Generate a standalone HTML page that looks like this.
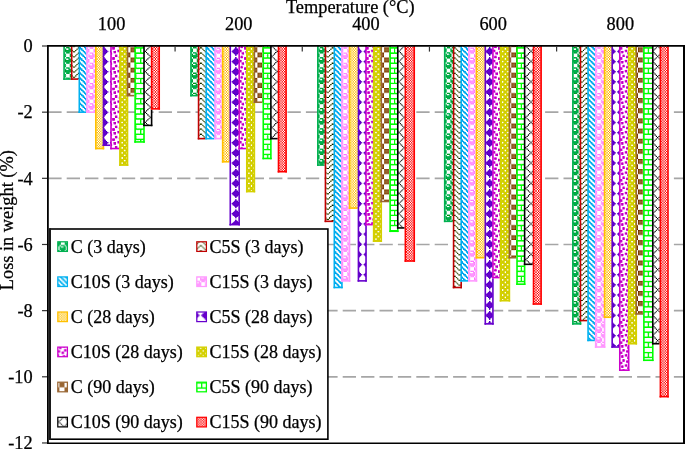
<!DOCTYPE html><html><head><meta charset="utf-8"><style>html,body{margin:0;padding:0;background:#fff;}svg{display:block;will-change:transform;}text{font-family:"Liberation Serif",serif;font-size:18.33px;fill:#000;stroke:#000;stroke-width:0.25px;}</style></head><body>
<svg width="685" height="449" viewBox="0 0 685 449">
<defs>
<pattern id="p0" patternUnits="userSpaceOnUse" width="8" height="8" patternTransform="translate(3.8 6.5) scale(1.26875)"><rect width="8" height="8" fill="#fff"/><path fill="#00b050" d="M1 0h3v1h-3zM5 0h3v1h-3zM0 1h1v1h-1zM3 1h2v1h-2zM0 2h5v1h-5zM0 3h5v1h-5zM1 4h3v1h-3zM5 4h3v1h-3zM0 5h1v1h-1zM4 5h1v1h-1zM7 5h1v1h-1zM0 6h1v1h-1zM4 6h4v1h-4zM0 7h1v1h-1zM4 7h4v1h-4z"/></pattern>
<pattern id="p1" patternUnits="userSpaceOnUse" width="8" height="8" patternTransform="translate(8 6.66) scale(1.26875)"><rect width="8" height="8" fill="#fff"/><path fill="#4f6228" d="M0 0h1v1h-1zM7 0h1v1h-1zM1 1h1v1h-1zM6 1h1v1h-1zM2 2h1v1h-1zM5 2h1v1h-1zM3 3h2v1h-2zM0 4h1v1h-1zM7 4h1v1h-1zM1 5h1v1h-1zM6 5h1v1h-1zM2 6h1v1h-1zM5 6h1v1h-1zM3 7h2v1h-2z"/></pattern>
<pattern id="p2" patternUnits="userSpaceOnUse" width="8" height="8" patternTransform="translate(6.43 0) scale(1.26875)"><rect width="8" height="8" fill="#fff"/><path fill="#00b0f0" d="M0 0h2v1h-2zM4 0h2v1h-2zM1 1h2v1h-2zM5 1h2v1h-2zM2 2h2v1h-2zM6 2h2v1h-2zM0 3h1v1h-1zM3 3h2v1h-2zM7 3h1v1h-1zM0 4h2v1h-2zM4 4h2v1h-2zM1 5h2v1h-2zM5 5h2v1h-2zM2 6h2v1h-2zM6 6h2v1h-2zM0 7h1v1h-1zM3 7h2v1h-2zM7 7h1v1h-1z"/></pattern>
<pattern id="p3" patternUnits="userSpaceOnUse" width="8" height="8" patternTransform="translate(7.15 1.75) scale(1.26875)"><rect width="8" height="8" fill="#fff"/><path fill="#ff99ff" d="M1 0h3v1h-3zM5 0h3v1h-3zM0 1h1v1h-1zM3 1h2v1h-2zM0 2h5v1h-5zM0 3h5v1h-5zM1 4h3v1h-3zM5 4h3v1h-3zM0 5h1v1h-1zM4 5h1v1h-1zM7 5h1v1h-1zM0 6h1v1h-1zM4 6h4v1h-4zM0 7h1v1h-1zM4 7h4v1h-4z"/></pattern>
<pattern id="p4" patternUnits="userSpaceOnUse" width="8" height="8" patternTransform="translate(0 0) scale(1.26875)"><rect width="8" height="8" fill="#fff"/><path fill="#ffc000" d="M0 0h1v1h-1zM2 0h1v1h-1zM4 0h1v1h-1zM6 0h1v1h-1zM1 1h1v1h-1zM3 1h1v1h-1zM5 1h1v1h-1zM7 1h1v1h-1zM0 2h1v1h-1zM2 2h1v1h-1zM4 2h1v1h-1zM6 2h1v1h-1zM1 3h1v1h-1zM3 3h1v1h-1zM5 3h1v1h-1zM7 3h1v1h-1zM0 4h1v1h-1zM2 4h1v1h-1zM4 4h1v1h-1zM6 4h1v1h-1zM1 5h1v1h-1zM3 5h1v1h-1zM5 5h1v1h-1zM7 5h1v1h-1zM0 6h1v1h-1zM2 6h1v1h-1zM4 6h1v1h-1zM6 6h1v1h-1zM1 7h1v1h-1zM3 7h1v1h-1zM5 7h1v1h-1zM7 7h1v1h-1z"/></pattern>
<pattern id="p5" patternUnits="userSpaceOnUse" width="8" height="8" patternTransform="translate(8.21 6.36) scale(1.26875)"><rect width="8" height="8" fill="#fff"/><path fill="#6600cc" d="M3 0h1v1h-1zM2 1h3v1h-3zM1 2h5v1h-5zM0 3h7v1h-7zM1 4h5v1h-5zM2 5h3v1h-3zM3 6h1v1h-1z"/></pattern>
<pattern id="p6" patternUnits="userSpaceOnUse" width="8" height="8" patternTransform="translate(0.63 0) scale(1.26875)"><rect width="8" height="8" fill="#fff"/><path fill="#cc00cc" d="M1 0h2v1h-2zM4 0h2v1h-2zM1 1h2v1h-2zM6 1h2v1h-2zM6 2h2v1h-2zM2 3h2v1h-2zM2 4h2v1h-2zM5 4h2v1h-2zM0 5h2v1h-2zM5 5h2v1h-2zM0 6h2v1h-2zM4 7h2v1h-2z"/></pattern>
<pattern id="p7" patternUnits="userSpaceOnUse" width="8" height="8" patternTransform="translate(4.75 7.6) scale(1.26875)"><rect width="8" height="8" fill="#fff"/><path fill="#d4d000" d="M0 0h2v1h-2zM3 0h3v1h-3zM7 0h1v1h-1zM0 1h8v1h-8zM1 2h3v1h-3zM5 2h3v1h-3zM0 3h8v1h-8zM0 4h2v1h-2zM3 4h3v1h-3zM7 4h1v1h-1zM0 5h8v1h-8zM1 6h3v1h-3zM5 6h3v1h-3zM0 7h8v1h-8z"/></pattern>
<pattern id="p8" patternUnits="userSpaceOnUse" width="8" height="8" patternTransform="translate(8.65 6.7) scale(1.26875)"><rect width="8" height="8" fill="#fff"/><path fill="#996633" d="M0 0h4v1h-4zM0 1h4v1h-4zM0 2h4v1h-4zM0 3h4v1h-4zM4 4h4v1h-4zM4 5h4v1h-4zM4 6h4v1h-4zM4 7h4v1h-4z"/></pattern>
<pattern id="p9" patternUnits="userSpaceOnUse" width="8" height="8" patternTransform="translate(8.22 6.69) scale(1.26875)"><rect width="8" height="8" fill="#fff"/><path fill="#00ff00" d="M0 0h8v1h-8zM0 1h1v1h-1zM0 2h1v1h-1zM0 3h1v1h-1zM0 4h8v1h-8zM4 5h1v1h-1zM4 6h1v1h-1zM4 7h1v1h-1z"/></pattern>
<pattern id="p10" patternUnits="userSpaceOnUse" width="8" height="8" patternTransform="translate(7.57 4.97) scale(1.26875)"><rect width="8" height="8" fill="#fff"/><path fill="#404040" d="M0 0h1v1h-1zM1 1h1v1h-1zM7 1h1v1h-1zM2 2h1v1h-1zM6 2h1v1h-1zM3 3h1v1h-1zM5 3h1v1h-1zM4 4h1v1h-1zM3 5h1v1h-1zM5 5h1v1h-1zM2 6h1v1h-1zM6 6h1v1h-1zM1 7h1v1h-1zM7 7h1v1h-1z"/></pattern>
<pattern id="p11" patternUnits="userSpaceOnUse" width="8" height="8" patternTransform="translate(0 0) scale(1.26875)"><rect width="8" height="8" fill="#fff"/><path fill="#ff0000" d="M0 0h1v1h-1zM2 0h1v1h-1zM4 0h1v1h-1zM6 0h1v1h-1zM1 1h1v1h-1zM3 1h1v1h-1zM5 1h1v1h-1zM7 1h1v1h-1zM0 2h1v1h-1zM2 2h1v1h-1zM4 2h1v1h-1zM6 2h1v1h-1zM1 3h1v1h-1zM3 3h1v1h-1zM5 3h1v1h-1zM7 3h1v1h-1zM0 4h1v1h-1zM2 4h1v1h-1zM4 4h1v1h-1zM6 4h1v1h-1zM1 5h1v1h-1zM3 5h1v1h-1zM5 5h1v1h-1zM7 5h1v1h-1zM0 6h1v1h-1zM2 6h1v1h-1zM4 6h1v1h-1zM6 6h1v1h-1zM1 7h1v1h-1zM3 7h1v1h-1zM5 7h1v1h-1zM7 7h1v1h-1z"/></pattern>
<filter id="sh" x="0" y="0" width="685" height="449" filterUnits="userSpaceOnUse" color-interpolation-filters="sRGB"><feConvolveMatrix order="3" kernelMatrix="0 -0.25 0 -0.25 2 -0.25 0 -0.25 0" divisor="1" preserveAlpha="true" edgeMode="duplicate"/></filter>
</defs>
<rect width="685" height="449" fill="#fff"/>
<line x1="48.3" y1="112.16" x2="683" y2="112.16" stroke="#a6a6a6" stroke-width="1.7" stroke-dasharray="13.3 5.1"/>
<line x1="48.3" y1="178.32" x2="683" y2="178.32" stroke="#a6a6a6" stroke-width="1.7" stroke-dasharray="13.3 5.1"/>
<line x1="48.3" y1="244.48" x2="683" y2="244.48" stroke="#a6a6a6" stroke-width="1.7" stroke-dasharray="13.3 5.1"/>
<line x1="48.3" y1="310.64" x2="683" y2="310.64" stroke="#a6a6a6" stroke-width="1.7" stroke-dasharray="13.3 5.1"/>
<line x1="48.3" y1="376.8" x2="683" y2="376.8" stroke="#a6a6a6" stroke-width="1.7" stroke-dasharray="13.3 5.1"/>
<g filter="url(#sh)">
<rect x="64.072" y="46" width="7.612" height="33.08" fill="url(#p0)"/>
<rect x="71.684" y="46" width="7.612" height="33.08" fill="url(#p1)"/>
<rect x="79.297" y="46" width="7.612" height="66.16" fill="url(#p2)"/>
<rect x="86.909" y="46" width="8.881" height="66.16" fill="url(#p3)"/>
<rect x="95.791" y="46" width="7.612" height="102.548" fill="url(#p4)"/>
<rect x="103.403" y="46" width="7.612" height="99.24" fill="url(#p5)"/>
<rect x="111.016" y="46" width="8.881" height="102.548" fill="url(#p6)"/>
<rect x="119.897" y="46" width="7.612" height="119.088" fill="url(#p7)"/>
<rect x="127.509" y="46" width="7.613" height="49.62" fill="url(#p8)"/>
<rect x="135.122" y="46" width="8.881" height="95.932" fill="url(#p9)"/>
<rect x="144.003" y="46" width="7.612" height="79.392" fill="url(#p10)"/>
<rect x="151.616" y="46" width="7.613" height="62.852" fill="url(#p11)"/>
<rect x="190.947" y="46" width="7.613" height="49.62" fill="url(#p0)"/>
<rect x="198.559" y="46" width="7.612" height="92.624" fill="url(#p1)"/>
<rect x="206.172" y="46" width="8.881" height="92.624" fill="url(#p2)"/>
<rect x="215.053" y="46" width="7.613" height="92.624" fill="url(#p3)"/>
<rect x="222.666" y="46" width="7.613" height="115.78" fill="url(#p4)"/>
<rect x="230.278" y="46" width="8.881" height="178.632" fill="url(#p5)"/>
<rect x="239.159" y="46" width="7.613" height="102.548" fill="url(#p6)"/>
<rect x="246.772" y="46" width="7.612" height="145.552" fill="url(#p7)"/>
<rect x="254.384" y="46" width="8.881" height="56.236" fill="url(#p8)"/>
<rect x="263.266" y="46" width="7.613" height="112.472" fill="url(#p9)"/>
<rect x="270.878" y="46" width="7.613" height="92.624" fill="url(#p10)"/>
<rect x="278.491" y="46" width="7.613" height="125.704" fill="url(#p11)"/>
<rect x="317.822" y="46" width="7.612" height="119.088" fill="url(#p0)"/>
<rect x="325.434" y="46" width="8.881" height="175.324" fill="url(#p1)"/>
<rect x="334.316" y="46" width="7.613" height="241.484" fill="url(#p2)"/>
<rect x="341.928" y="46" width="7.613" height="234.868" fill="url(#p3)"/>
<rect x="349.541" y="46" width="8.881" height="162.092" fill="url(#p4)"/>
<rect x="358.422" y="46" width="7.613" height="234.868" fill="url(#p5)"/>
<rect x="366.034" y="46" width="7.613" height="178.632" fill="url(#p6)"/>
<rect x="373.647" y="46" width="7.613" height="195.172" fill="url(#p7)"/>
<rect x="381.259" y="46" width="8.881" height="155.476" fill="url(#p8)"/>
<rect x="390.141" y="46" width="7.613" height="185.248" fill="url(#p9)"/>
<rect x="397.753" y="46" width="7.613" height="181.94" fill="url(#p10)"/>
<rect x="405.366" y="46" width="8.881" height="215.02" fill="url(#p11)"/>
<rect x="444.697" y="46" width="8.881" height="175.324" fill="url(#p0)"/>
<rect x="453.578" y="46" width="7.613" height="241.484" fill="url(#p1)"/>
<rect x="461.191" y="46" width="7.613" height="234.868" fill="url(#p2)"/>
<rect x="468.803" y="46" width="7.613" height="234.868" fill="url(#p3)"/>
<rect x="476.416" y="46" width="8.881" height="211.712" fill="url(#p4)"/>
<rect x="485.297" y="46" width="7.613" height="277.872" fill="url(#p5)"/>
<rect x="492.909" y="46" width="7.613" height="231.56" fill="url(#p6)"/>
<rect x="500.522" y="46" width="8.881" height="254.716" fill="url(#p7)"/>
<rect x="509.403" y="46" width="7.612" height="211.712" fill="url(#p8)"/>
<rect x="517.016" y="46" width="7.613" height="238.176" fill="url(#p9)"/>
<rect x="524.628" y="46" width="8.881" height="218.328" fill="url(#p10)"/>
<rect x="533.509" y="46" width="7.613" height="258.024" fill="url(#p11)"/>
<rect x="572.841" y="46" width="7.612" height="277.872" fill="url(#p0)"/>
<rect x="580.453" y="46" width="7.613" height="274.564" fill="url(#p1)"/>
<rect x="588.066" y="46" width="7.612" height="294.412" fill="url(#p2)"/>
<rect x="595.678" y="46" width="8.881" height="301.028" fill="url(#p3)"/>
<rect x="604.559" y="46" width="7.612" height="271.256" fill="url(#p4)"/>
<rect x="612.172" y="46" width="7.613" height="301.028" fill="url(#p5)"/>
<rect x="619.784" y="46" width="8.881" height="324.184" fill="url(#p6)"/>
<rect x="628.666" y="46" width="7.613" height="297.72" fill="url(#p7)"/>
<rect x="636.278" y="46" width="7.612" height="267.948" fill="url(#p8)"/>
<rect x="643.891" y="46" width="8.881" height="314.26" fill="url(#p9)"/>
<rect x="652.772" y="46" width="7.612" height="297.72" fill="url(#p10)"/>
<rect x="660.384" y="46" width="7.613" height="350.648" fill="url(#p11)"/>
</g>
<g>
<rect x="63.272" y="46" width="1.6" height="33.88" fill="#00b050"/>
<rect x="63.272" y="78.28" width="7.612" height="1.6" fill="#00b050"/>
<rect x="70.884" y="46" width="1.6" height="33.88" fill="#c00000"/>
<rect x="70.884" y="78.28" width="7.612" height="1.6" fill="#c00000"/>
<rect x="78.497" y="46" width="1.6" height="66.96" fill="#00b0f0"/>
<rect x="78.497" y="111.36" width="7.612" height="1.6" fill="#00b0f0"/>
<rect x="86.109" y="46" width="1.6" height="66.96" fill="#ff99ff"/>
<rect x="86.109" y="111.36" width="8.881" height="1.6" fill="#ff99ff"/>
<rect x="94.991" y="46" width="1.6" height="103.348" fill="#ffc000"/>
<rect x="94.991" y="147.748" width="9.212" height="1.6" fill="#ffc000"/>
<rect x="102.603" y="146.04" width="1.6" height="3.308" fill="#ffc000"/>
<rect x="102.603" y="46" width="1.6" height="100.04" fill="#6600cc"/>
<rect x="102.603" y="144.44" width="7.612" height="1.6" fill="#6600cc"/>
<rect x="110.216" y="46" width="1.6" height="103.348" fill="#cc00cc"/>
<rect x="110.216" y="147.748" width="8.881" height="1.6" fill="#cc00cc"/>
<rect x="119.097" y="46" width="1.6" height="119.888" fill="#d4d000"/>
<rect x="119.097" y="164.288" width="9.213" height="1.6" fill="#d4d000"/>
<rect x="126.709" y="96.42" width="1.6" height="69.468" fill="#d4d000"/>
<rect x="126.709" y="46" width="1.6" height="50.42" fill="#996633"/>
<rect x="126.709" y="94.82" width="7.612" height="1.6" fill="#996633"/>
<rect x="134.322" y="46" width="1.6" height="96.732" fill="#00ff00"/>
<rect x="134.322" y="141.132" width="10.481" height="1.6" fill="#00ff00"/>
<rect x="143.203" y="126.192" width="1.6" height="16.54" fill="#00ff00"/>
<rect x="143.203" y="46" width="1.6" height="80.192" fill="#000000"/>
<rect x="143.203" y="124.592" width="9.213" height="1.6" fill="#000000"/>
<rect x="150.816" y="109.652" width="1.6" height="16.54" fill="#000000"/>
<rect x="150.816" y="46" width="1.6" height="63.652" fill="#ff0000"/>
<rect x="150.816" y="108.052" width="9.213" height="1.6" fill="#ff0000"/>
<rect x="158.428" y="46" width="1.6" height="63.652" fill="#ff0000"/>
<rect x="190.147" y="46" width="1.6" height="50.42" fill="#00b050"/>
<rect x="190.147" y="94.82" width="7.613" height="1.6" fill="#00b050"/>
<rect x="197.759" y="46" width="1.6" height="93.424" fill="#c00000"/>
<rect x="197.759" y="137.824" width="7.612" height="1.6" fill="#c00000"/>
<rect x="205.372" y="46" width="1.6" height="93.424" fill="#00b0f0"/>
<rect x="205.372" y="137.824" width="8.881" height="1.6" fill="#00b0f0"/>
<rect x="214.253" y="46" width="1.6" height="93.424" fill="#ff99ff"/>
<rect x="214.253" y="137.824" width="7.613" height="1.6" fill="#ff99ff"/>
<rect x="221.866" y="46" width="1.6" height="116.58" fill="#ffc000"/>
<rect x="221.866" y="160.98" width="7.613" height="1.6" fill="#ffc000"/>
<rect x="229.478" y="46" width="1.6" height="179.432" fill="#6600cc"/>
<rect x="229.478" y="223.832" width="10.481" height="1.6" fill="#6600cc"/>
<rect x="238.359" y="149.348" width="1.6" height="76.084" fill="#6600cc"/>
<rect x="238.359" y="46" width="1.6" height="103.348" fill="#cc00cc"/>
<rect x="238.359" y="147.748" width="7.613" height="1.6" fill="#cc00cc"/>
<rect x="245.972" y="46" width="1.6" height="146.352" fill="#d4d000"/>
<rect x="245.972" y="190.752" width="9.213" height="1.6" fill="#d4d000"/>
<rect x="253.584" y="103.036" width="1.6" height="89.316" fill="#d4d000"/>
<rect x="253.584" y="46" width="1.6" height="57.036" fill="#996633"/>
<rect x="253.584" y="101.436" width="8.881" height="1.6" fill="#996633"/>
<rect x="262.466" y="46" width="1.6" height="113.272" fill="#00ff00"/>
<rect x="262.466" y="157.672" width="9.213" height="1.6" fill="#00ff00"/>
<rect x="270.078" y="139.424" width="1.6" height="19.848" fill="#00ff00"/>
<rect x="270.078" y="46" width="1.6" height="93.424" fill="#000000"/>
<rect x="270.078" y="137.824" width="7.613" height="1.6" fill="#000000"/>
<rect x="277.691" y="46" width="1.6" height="126.504" fill="#ff0000"/>
<rect x="277.691" y="170.904" width="9.213" height="1.6" fill="#ff0000"/>
<rect x="285.303" y="46" width="1.6" height="126.504" fill="#ff0000"/>
<rect x="317.022" y="46" width="1.6" height="119.888" fill="#00b050"/>
<rect x="317.022" y="164.288" width="7.612" height="1.6" fill="#00b050"/>
<rect x="324.634" y="46" width="1.6" height="176.124" fill="#c00000"/>
<rect x="324.634" y="220.524" width="8.881" height="1.6" fill="#c00000"/>
<rect x="333.516" y="46" width="1.6" height="242.284" fill="#00b0f0"/>
<rect x="333.516" y="286.684" width="9.213" height="1.6" fill="#00b0f0"/>
<rect x="341.128" y="281.668" width="1.6" height="6.616" fill="#00b0f0"/>
<rect x="341.128" y="46" width="1.6" height="235.668" fill="#ff99ff"/>
<rect x="341.128" y="280.068" width="9.213" height="1.6" fill="#ff99ff"/>
<rect x="348.741" y="208.892" width="1.6" height="72.776" fill="#ff99ff"/>
<rect x="348.741" y="46" width="1.6" height="162.892" fill="#ffc000"/>
<rect x="348.741" y="207.292" width="8.881" height="1.6" fill="#ffc000"/>
<rect x="357.622" y="46" width="1.6" height="235.668" fill="#6600cc"/>
<rect x="357.622" y="280.068" width="9.213" height="1.6" fill="#6600cc"/>
<rect x="365.234" y="225.432" width="1.6" height="56.236" fill="#6600cc"/>
<rect x="365.234" y="46" width="1.6" height="179.432" fill="#cc00cc"/>
<rect x="365.234" y="223.832" width="7.613" height="1.6" fill="#cc00cc"/>
<rect x="372.847" y="46" width="1.6" height="195.972" fill="#d4d000"/>
<rect x="372.847" y="240.372" width="9.213" height="1.6" fill="#d4d000"/>
<rect x="380.459" y="202.276" width="1.6" height="39.696" fill="#d4d000"/>
<rect x="380.459" y="46" width="1.6" height="156.276" fill="#996633"/>
<rect x="380.459" y="200.676" width="8.881" height="1.6" fill="#996633"/>
<rect x="389.341" y="46" width="1.6" height="186.048" fill="#00ff00"/>
<rect x="389.341" y="230.448" width="9.213" height="1.6" fill="#00ff00"/>
<rect x="396.953" y="228.74" width="1.6" height="3.308" fill="#00ff00"/>
<rect x="396.953" y="46" width="1.6" height="182.74" fill="#000000"/>
<rect x="396.953" y="227.14" width="7.613" height="1.6" fill="#000000"/>
<rect x="404.566" y="46" width="1.6" height="215.82" fill="#ff0000"/>
<rect x="404.566" y="260.22" width="10.481" height="1.6" fill="#ff0000"/>
<rect x="413.447" y="46" width="1.6" height="215.82" fill="#ff0000"/>
<rect x="443.897" y="46" width="1.6" height="176.124" fill="#00b050"/>
<rect x="443.897" y="220.524" width="8.881" height="1.6" fill="#00b050"/>
<rect x="452.778" y="46" width="1.6" height="242.284" fill="#c00000"/>
<rect x="452.778" y="286.684" width="9.213" height="1.6" fill="#c00000"/>
<rect x="460.391" y="281.668" width="1.6" height="6.616" fill="#c00000"/>
<rect x="460.391" y="46" width="1.6" height="235.668" fill="#00b0f0"/>
<rect x="460.391" y="280.068" width="7.613" height="1.6" fill="#00b0f0"/>
<rect x="468.003" y="46" width="1.6" height="235.668" fill="#ff99ff"/>
<rect x="468.003" y="280.068" width="9.213" height="1.6" fill="#ff99ff"/>
<rect x="475.616" y="258.512" width="1.6" height="23.156" fill="#ff99ff"/>
<rect x="475.616" y="46" width="1.6" height="212.512" fill="#ffc000"/>
<rect x="475.616" y="256.912" width="8.881" height="1.6" fill="#ffc000"/>
<rect x="484.497" y="46" width="1.6" height="278.672" fill="#6600cc"/>
<rect x="484.497" y="323.072" width="9.213" height="1.6" fill="#6600cc"/>
<rect x="492.109" y="278.36" width="1.6" height="46.312" fill="#6600cc"/>
<rect x="492.109" y="46" width="1.6" height="232.36" fill="#cc00cc"/>
<rect x="492.109" y="276.76" width="7.613" height="1.6" fill="#cc00cc"/>
<rect x="499.722" y="46" width="1.6" height="255.516" fill="#d4d000"/>
<rect x="499.722" y="299.916" width="10.481" height="1.6" fill="#d4d000"/>
<rect x="508.603" y="258.512" width="1.6" height="43.004" fill="#d4d000"/>
<rect x="508.603" y="46" width="1.6" height="212.512" fill="#996633"/>
<rect x="508.603" y="256.912" width="7.613" height="1.6" fill="#996633"/>
<rect x="516.216" y="46" width="1.6" height="238.976" fill="#00ff00"/>
<rect x="516.216" y="283.376" width="9.212" height="1.6" fill="#00ff00"/>
<rect x="523.828" y="265.128" width="1.6" height="19.848" fill="#00ff00"/>
<rect x="523.828" y="46" width="1.6" height="219.128" fill="#000000"/>
<rect x="523.828" y="263.528" width="8.881" height="1.6" fill="#000000"/>
<rect x="532.709" y="46" width="1.6" height="258.824" fill="#ff0000"/>
<rect x="532.709" y="303.224" width="9.212" height="1.6" fill="#ff0000"/>
<rect x="540.322" y="46" width="1.6" height="258.824" fill="#ff0000"/>
<rect x="572.041" y="46" width="1.6" height="278.672" fill="#00b050"/>
<rect x="572.041" y="323.072" width="9.212" height="1.6" fill="#00b050"/>
<rect x="579.653" y="321.364" width="1.6" height="3.308" fill="#00b050"/>
<rect x="579.653" y="46" width="1.6" height="275.364" fill="#c00000"/>
<rect x="579.653" y="319.764" width="7.613" height="1.6" fill="#c00000"/>
<rect x="587.266" y="46" width="1.6" height="295.212" fill="#00b0f0"/>
<rect x="587.266" y="339.612" width="7.612" height="1.6" fill="#00b0f0"/>
<rect x="594.878" y="46" width="1.6" height="301.828" fill="#ff99ff"/>
<rect x="594.878" y="346.228" width="10.481" height="1.6" fill="#ff99ff"/>
<rect x="603.759" y="318.056" width="1.6" height="29.772" fill="#ff99ff"/>
<rect x="603.759" y="46" width="1.6" height="272.056" fill="#ffc000"/>
<rect x="603.759" y="316.456" width="7.612" height="1.6" fill="#ffc000"/>
<rect x="611.372" y="46" width="1.6" height="301.828" fill="#6600cc"/>
<rect x="611.372" y="346.228" width="7.613" height="1.6" fill="#6600cc"/>
<rect x="618.984" y="46" width="1.6" height="324.984" fill="#cc00cc"/>
<rect x="618.984" y="369.384" width="10.481" height="1.6" fill="#cc00cc"/>
<rect x="627.866" y="344.52" width="1.6" height="26.464" fill="#cc00cc"/>
<rect x="627.866" y="46" width="1.6" height="298.52" fill="#d4d000"/>
<rect x="627.866" y="342.92" width="9.212" height="1.6" fill="#d4d000"/>
<rect x="635.478" y="314.748" width="1.6" height="29.772" fill="#d4d000"/>
<rect x="635.478" y="46" width="1.6" height="268.748" fill="#996633"/>
<rect x="635.478" y="313.148" width="7.612" height="1.6" fill="#996633"/>
<rect x="643.091" y="46" width="1.6" height="315.06" fill="#00ff00"/>
<rect x="643.091" y="359.46" width="10.481" height="1.6" fill="#00ff00"/>
<rect x="651.972" y="344.52" width="1.6" height="16.54" fill="#00ff00"/>
<rect x="651.972" y="46" width="1.6" height="298.52" fill="#000000"/>
<rect x="651.972" y="342.92" width="7.612" height="1.6" fill="#000000"/>
<rect x="659.584" y="46" width="1.6" height="351.448" fill="#ff0000"/>
<rect x="659.584" y="395.848" width="9.212" height="1.6" fill="#ff0000"/>
<rect x="667.197" y="46" width="1.6" height="351.448" fill="#ff0000"/>
</g>
<g stroke="#000" fill="none">
<line x1="47.9" y1="45" x2="47.9" y2="444" stroke-width="1.8"/>
<line x1="47" y1="45.9" x2="685" y2="45.9" stroke-width="1.8"/>
<line x1="684" y1="45" x2="684" y2="444" stroke-width="2"/>
<line x1="47" y1="443.2" x2="685" y2="443.2" stroke-width="1.6"/>
</g>
<g stroke="#333" stroke-width="1.2">
<line x1="42" y1="46" x2="47" y2="46"/>
<line x1="42" y1="112.16" x2="47" y2="112.16"/>
<line x1="42" y1="178.32" x2="47" y2="178.32"/>
<line x1="42" y1="244.48" x2="47" y2="244.48"/>
<line x1="42" y1="310.64" x2="47" y2="310.64"/>
<line x1="42" y1="376.8" x2="47" y2="376.8"/>
<line x1="42" y1="442.96" x2="47" y2="442.96"/>
<line x1="175.08" y1="46.5" x2="175.08" y2="51.6"/>
<line x1="302.26" y1="46.5" x2="302.26" y2="51.6"/>
<line x1="429.44" y1="46.5" x2="429.44" y2="51.6"/>
<line x1="556.62" y1="46.5" x2="556.62" y2="51.6"/>
</g>
<text x="32.7" y="52.2" text-anchor="end">0</text>
<text x="32.7" y="118.36" text-anchor="end">-2</text>
<text x="32.7" y="184.52" text-anchor="end">-4</text>
<text x="32.7" y="250.68" text-anchor="end">-6</text>
<text x="32.7" y="316.84" text-anchor="end">-8</text>
<text x="32.7" y="383" text-anchor="end">-10</text>
<text x="32.7" y="449.16" text-anchor="end">-12</text>
<text x="111.59" y="30.2" text-anchor="middle">100</text>
<text x="238.77" y="30.2" text-anchor="middle">200</text>
<text x="365.95" y="30.2" text-anchor="middle">400</text>
<text x="493.13" y="30.2" text-anchor="middle">600</text>
<text x="620.31" y="30.2" text-anchor="middle">800</text>
<text x="350.3" y="12.8" text-anchor="middle">Temperature (°C)</text>
<text transform="translate(12.7,220.2) rotate(-90)" text-anchor="middle">Loss in weight (%)</text>
<rect x="50.2" y="229" width="277.7" height="210.2" fill="#fff" stroke="#000" stroke-width="1.6"/>
<rect x="48.8" y="228.2" width="2.2" height="211.8" fill="#1a1a1a"/>
<rect x="57.8" y="241.8" width="9.6" height="9.6" fill="url(#p0)" stroke="#00b050" stroke-width="1.25"/>
<text x="70.8" y="253.1" style="font-size:18px">C (3 days)</text>
<rect x="196.8" y="241.8" width="9.6" height="9.6" fill="url(#p1)" stroke="#c00000" stroke-width="1.25"/>
<text x="209.5" y="253.1" style="font-size:18px">C5S (3 days)</text>
<rect x="57.8" y="276.9" width="9.6" height="9.6" fill="url(#p2)" stroke="#00b0f0" stroke-width="1.25"/>
<text x="70.8" y="288.14" style="font-size:18px">C10S (3 days)</text>
<rect x="196.8" y="276.9" width="9.6" height="9.6" fill="url(#p3)" stroke="#ff99ff" stroke-width="1.25"/>
<text x="209.5" y="288.14" style="font-size:18px">C15S (3 days)</text>
<rect x="57.8" y="312" width="9.6" height="9.6" fill="url(#p4)" stroke="#ffc000" stroke-width="1.25"/>
<text x="70.8" y="323.18" style="font-size:18px">C (28 days)</text>
<rect x="196.8" y="312" width="9.6" height="9.6" fill="url(#p5)" stroke="#6600cc" stroke-width="1.25"/>
<text x="209.5" y="323.18" style="font-size:18px">C5S (28 days)</text>
<rect x="57.8" y="347.1" width="9.6" height="9.6" fill="url(#p6)" stroke="#cc00cc" stroke-width="1.25"/>
<text x="70.8" y="358.22" style="font-size:18px">C10S (28 days)</text>
<rect x="196.8" y="347.1" width="9.6" height="9.6" fill="url(#p7)" stroke="#d4d000" stroke-width="1.25"/>
<text x="209.5" y="358.22" style="font-size:18px">C15S (28 days)</text>
<rect x="57.8" y="382.2" width="9.6" height="9.6" fill="url(#p8)" stroke="#996633" stroke-width="1.25"/>
<text x="70.8" y="393.26" style="font-size:18px">C (90 days)</text>
<rect x="196.8" y="382.2" width="9.6" height="9.6" fill="url(#p9)" stroke="#00ff00" stroke-width="1.25"/>
<text x="209.5" y="393.26" style="font-size:18px">C5S (90 days)</text>
<rect x="57.8" y="417.3" width="9.6" height="9.6" fill="url(#p10)" stroke="#000000" stroke-width="1.25"/>
<text x="70.8" y="428.3" style="font-size:18px">C10S (90 days)</text>
<rect x="196.8" y="417.3" width="9.6" height="9.6" fill="url(#p11)" stroke="#ff0000" stroke-width="1.25"/>
<text x="209.5" y="428.3" style="font-size:18px">C15S (90 days)</text>
</svg></body></html>
